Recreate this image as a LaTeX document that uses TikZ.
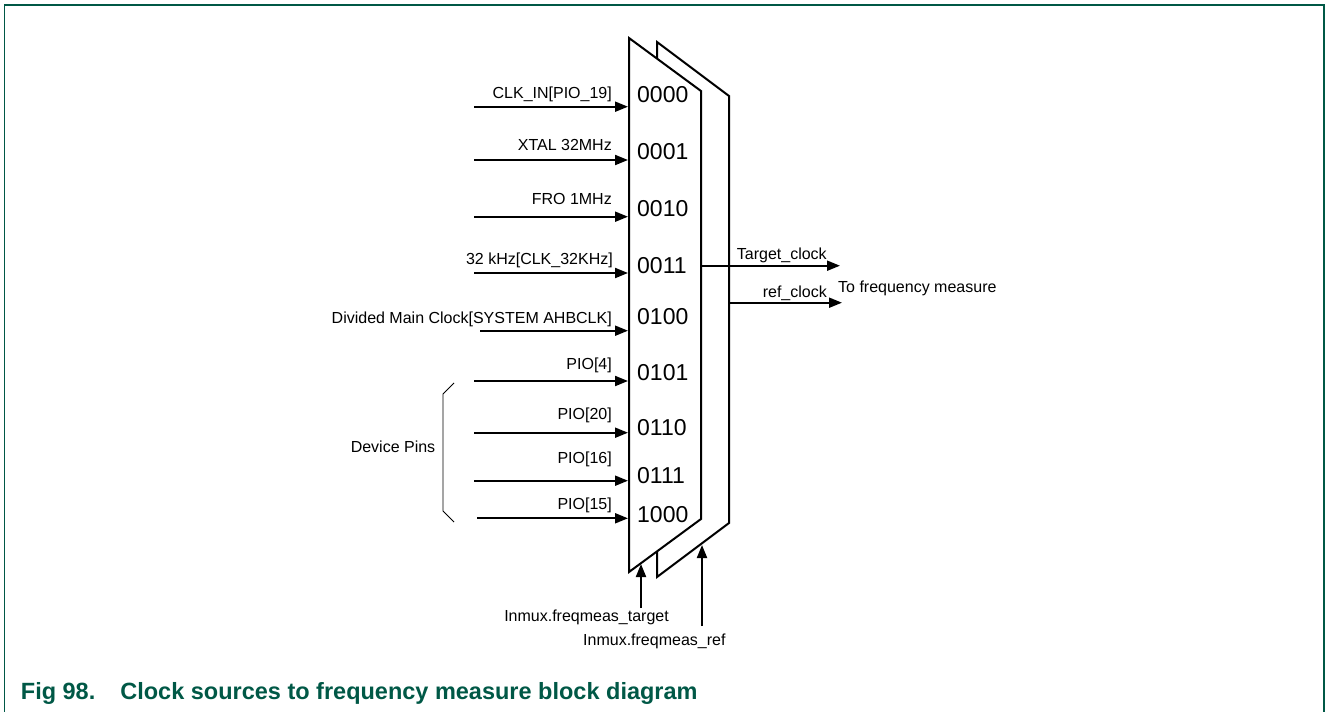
\documentclass[tikz,border=0pt]{standalone}
\usepackage{fontspec}
\setmainfont{Liberation Sans}
\usetikzlibrary{arrows.meta}
\definecolor{nxpgreen}{RGB}{0,88,70}
\begin{document}
\begin{tikzpicture}[x=1pt,y=-1pt,
  muxline/.style={line width=2pt, line join=miter, fill=white},
  sig/.style={line width=2pt, -{Triangle[length=13pt,width=10pt]}},
  lbl/.style={font=\fontsize{16}{19}\selectfont, inner sep=0pt},
  codelbl/.style={font=\fontsize{23}{26}\selectfont, inner sep=0pt, anchor=west},
  frameline/.style={draw=nxpgreen, line width=1.5pt},
]
\useasboundingbox (0,0) rectangle (1326,712);
% frame
\draw[frameline] (4.5,712) -- (4.5,5) -- (1324,5) -- (1324,712);

% back mux (ref)
\draw[muxline] (657,42) -- (729,96) -- (729,523) -- (657,577) -- cycle;
% front mux (target)
\draw[muxline] (629,38) -- (701,91) -- (701,519) -- (629,572) -- cycle;

% mux codes
\node[codelbl] (c0) at (637,95) {0000};
\node[codelbl] (c1) at (637,152) {0001};
\node[codelbl] (c2) at (637,209) {0010};
\node[codelbl] (c3) at (637,266) {0011};
\node[codelbl] (c4) at (637,317) {0100};
\node[codelbl] (c5) at (637,373) {0101};
\node[codelbl] (c6) at (637,428) {0110};
\node[codelbl] (c7) at (637,476) {0111};
\node[codelbl] (c8) at (637,515) {1000};

% input coordinates
\foreach \i/\y/\x in {0/106.7/474, 1/160/474, 2/216.7/474, 3/273/474, 4/330.7/480, 5/381/474, 6/432.7/474, 7/480.7/474, 8/518.3/477} {
  \coordinate (s\i) at (\x,\y);
  \coordinate (e\i) at (628,\y);
}
\foreach \i in {0,...,8} { \draw[sig] (s\i) -- (e\i); }

% input labels
\node[lbl, anchor=base east] (l0) at (612,98) {CLK\_IN[PIO\_19]};
\node[lbl, anchor=base east] (l1) at (612,150) {XTAL 32MHz};
\node[lbl, anchor=base east] (l2) at (612,204) {FRO 1MHz};
\node[lbl, anchor=base east] (l3) at (613,264) {32 kHz[CLK\_32KHz]};
\node[lbl, anchor=base east] (l4) at (612,323) {Divided Main Clock[SYSTEM AHBCLK]};
\node[lbl, anchor=base east] (l5) at (612,369) {PIO[4]};
\node[lbl, anchor=base east] (l6) at (612,419) {PIO[20]};
\node[lbl, anchor=base east] (l7) at (612,463) {PIO[16]};
\node[lbl, anchor=base east] (l8) at (612,509) {PIO[15]};

% device pins bracket
\coordinate (b0) at (454,383);
\coordinate (b1) at (443,394);
\coordinate (b2) at (443,511);
\coordinate (b3) at (454,522);
\draw[line width=0.8pt] (b0) -- (b1) -- (b2) -- (b3);
\node[lbl, anchor=base] (dp) at (393,452.7) {Device Pins};

% outputs
\coordinate (tgt) at (701,265.7);
\coordinate (tgtend) at (840,265.7);
\coordinate (ref) at (729,302.7);
\coordinate (refend) at (842,302.7);
\draw[sig] (tgt) -- (tgtend);
\draw[sig] (ref) -- (refend);
\node[lbl, anchor=base west] (tl) at (736.7,259.3) {Target\_clock};
\node[lbl, anchor=base east] (rl) at (827,297.7) {ref\_clock};
\node[lbl, anchor=base west] (fm) at (838,292.7) {To frequency measure};

% select inputs
\coordinate (selt) at (641,608);
\coordinate (seltend) at (641,564);
\coordinate (selr) at (702,626);
\coordinate (selrend) at (702,545);
\draw[sig] (selt) -- (seltend);
\draw[sig] (selr) -- (selrend);
\node[lbl, anchor=base east] (stl) at (669,621.7) {Inmux.freqmeas\_target};
\node[lbl, anchor=base west] (srl) at (583,645) {Inmux.freqmeas\_ref};

% caption
\node[anchor=base west, inner sep=0pt, text=nxpgreen, font=\bfseries\fontsize{23.5}{27}\selectfont] (cap) at (20.7,699) {Fig 98.\hspace{25pt}Clock sources to frequency measure block diagram};
\end{tikzpicture}
\end{document}
